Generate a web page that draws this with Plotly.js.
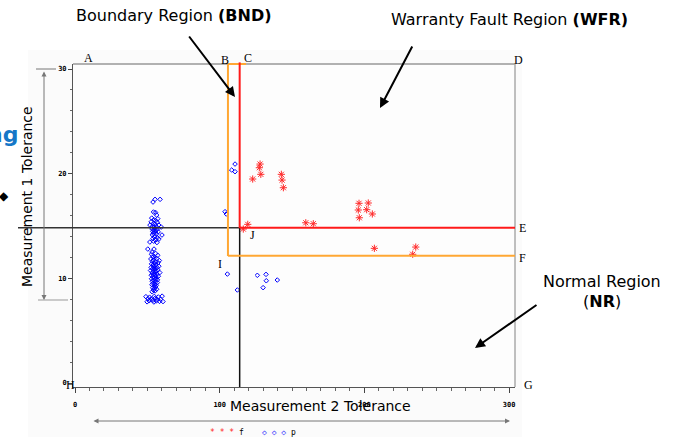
<!DOCTYPE html>
<html><head><meta charset="utf-8">
<script src="https://cdn.plot.ly/plotly-3.0.1.min.js"></script>
<style>html,body{margin:0;padding:0;background:#fff}#c{width:674px;height:437px}</style>
</head><body><div id="c"></div>
<script>
// Series f (fault) - red asterisks
const fX = [127.9,127.4,128.4,122.8,142.6,143.1,144.0,119.4,116.3,159.5,164.7,196.3,202.7,195.8,201.6,205.5,196.5,206.9,235.5,233.4];
const fY = [20.92,20.57,19.94,19.49,19.94,19.39,18.66,15.16,14.71,15.31,15.22,17.17,17.20,16.53,16.56,16.15,15.79,12.87,12.99,12.30];
// Series p (pass) - blue diamonds
const pX = [
 55.3,58.8,53.9,54.2,55.6,56.4,53.0,57.2,54.5,55.8,52.6,56.9,54.0,55.1,57.8,51.8,53.6,56.2,54.7,55.5,59.6,53.2,56.8,54.3,55.9,53.7,57.5,55.0,54.1,56.3,60.1,53.5,55.4,54.8,57.0,53.9,58.0,55.6,51.7,54.4,56.6,
 50.3,54.6,53.2,52.8,55.7,57.2,53.8,55.0,56.5,52.4,54.2,58.3,53.5,55.8,57.4,54.8,52.9,56.2,53.9,55.3,57.9,54.4,52.6,56.8,55.1,53.6,54.9,57.3,52.2,56.0,54.2,55.6,58.6,53.3,55.0,56.7,54.0,52.7,55.4,57.6,53.8,56.3,54.7,52.9,55.9,57.0,54.3,53.4,55.5,56.9,54.0,55.2,53.1,56.1,54.6,55.7,53.7,54.9,56.4,54.2,55.3,53.3,
 49.0,51.5,54.8,57.6,60.2,50.4,52.6,55.2,56.9,59.1,51.2,53.8,56.1,58.4,49.8,54.5,60.8,
 110.6,108.3,110.6,103.7,104.6,105.3,112.2,126.0,132.0,132.2,139.8,130.0];
const pY = [
 17.55,17.55,17.29,16.34,16.30,16.05,15.76,15.70,15.60,15.52,15.40,15.35,15.22,15.15,15.10,15.09,14.98,14.95,14.88,14.80,14.90,14.72,14.70,14.62,14.55,14.48,14.45,14.38,14.30,14.25,14.14,14.15,14.05,13.95,13.88,13.80,13.75,13.65,13.47,13.55,13.42,
 12.80,12.80,12.52,12.30,12.38,12.20,12.05,11.98,11.90,11.85,11.76,11.70,11.62,11.58,11.50,11.45,11.38,11.32,11.25,11.20,11.16,11.10,11.05,11.02,10.96,10.90,10.84,10.80,10.75,10.72,10.66,10.60,10.55,10.52,10.45,10.40,10.36,10.30,10.26,10.20,10.14,10.08,10.02,9.96,9.92,9.86,9.80,9.72,9.66,9.60,9.52,9.45,9.40,9.34,9.26,9.18,9.10,9.02,8.96,8.88,8.80,8.72,
 8.25,8.20,8.28,8.22,8.30,8.05,8.02,8.08,7.98,8.00,7.86,7.90,7.84,7.80,7.76,7.74,7.78,
 20.92,20.35,20.19,16.37,16.15,10.41,8.89,10.29,10.38,9.77,9.84,9.11];
// Region boundaries
const bndX = 105.7, bndY = 12.15;   // orange (boundary)
const wfrX = 113.8, wfrY = 14.83;   // red (warranty fault) / black split
const xTicks = [0,100,200,300];
const yTicks = [0,10,20,30];

// pixel -> paper helpers (plot area: l=73, t=64, w=442, h=323)
const PL=73, PT=64, PW=442, PH=323;
const px = x => (x-PL)/PW;
const py = y => (PT+PH-y)/PH;

const traces = [
 {x:pX, y:pY, mode:'markers', name:'p', type:'scatter',
  marker:{symbol:'diamond-open', size:3.5, color:'#0000ff', line:{color:'#0000ff', width:1}}},
 {x:fX, y:fY, mode:'markers', name:'f', type:'scatter',
  marker:{symbol:'asterisk-open', size:6, color:'#ff2a2a', line:{color:'#ff2a2a', width:1}}}
];

const letter = (t,x,y)=>({text:t, xref:'paper', yref:'paper', x:px(x), y:py(y), showarrow:false,
  font:{family:'Liberation Serif', size:12, color:'#000'}, xanchor:'center', yanchor:'middle'});
const sans = 'DejaVu Sans';

const annotations = [
 {text:'Boundary Region <b>(BND)</b>', xref:'paper', yref:'paper', x:px(174), y:py(15), showarrow:false,
  font:{family:sans, size:16, color:'#000'}, xanchor:'center', yanchor:'middle'},
 {text:'', xref:'paper', yref:'paper', x:px(235), y:py(97), ax:-47, ay:-62, showarrow:true,
  arrowhead:2, arrowsize:1, arrowwidth:2, arrowcolor:'#000'},
 {text:'Warranty Fault Region <b>(WFR)</b>', xref:'paper', yref:'paper', x:px(509), y:py(20), showarrow:false,
  font:{family:sans, size:16, color:'#000'}, xanchor:'center', yanchor:'middle'},
 {text:'', xref:'paper', yref:'paper', x:px(380), y:py(108), ax:33, ay:-63, showarrow:true,
  arrowhead:2, arrowsize:1, arrowwidth:2, arrowcolor:'#000'},
 {text:'Normal Region', xref:'paper', yref:'paper', x:px(602), y:py(281), showarrow:false,
  font:{family:sans, size:16, color:'#000'}, xanchor:'center', yanchor:'middle'},
 {text:'(<b>NR</b>)', xref:'paper', yref:'paper', x:px(602), y:py(301), showarrow:false,
  font:{family:sans, size:16, color:'#000'}, xanchor:'center', yanchor:'middle'},
 {text:'', xref:'paper', yref:'paper', x:px(475), y:py(348), ax:63, ay:-44, showarrow:true,
  arrowhead:2, arrowsize:1, arrowwidth:2, arrowcolor:'#000'},
 {text:'Measurement 1 Tolerance', xref:'paper', yref:'paper', x:px(27), y:py(197), showarrow:false, textangle:-90,
  font:{family:sans, size:14, color:'#000'}, xanchor:'center', yanchor:'middle'},
 {text:'Measurement 2 Tolerance', xref:'paper', yref:'paper', x:px(320), y:py(406), showarrow:false,
  font:{family:sans, size:14, color:'#000'}, xanchor:'center', yanchor:'middle'},
 // left vertical double arrow
 {text:'', xref:'paper', yref:'paper', x:px(44), y:py(300), ax:0, ay:-230, showarrow:true, arrowside:'end+start',
  arrowhead:2, arrowsize:1, arrowwidth:1, arrowcolor:'#777'},
 // bottom horizontal double arrow
 {text:'', xref:'paper', yref:'paper', x:px(510), y:py(421), ax:-418, ay:0, showarrow:true, arrowside:'end+start',
  arrowhead:2, arrowsize:1, arrowwidth:1, arrowcolor:'#777'},
 // legend
 {text:"<span style='color:#ff2020'>* * *</span> f", xref:'paper', yref:'paper', x:px(208), y:py(432), showarrow:false,
  font:{family:'DejaVu Sans Mono', size:8, color:'#000'}, xanchor:'left', yanchor:'middle'},
 {text:"<span style='color:#3030ff'>◇ ◇ ◇</span> p", xref:'paper', yref:'paper', x:px(260), y:py(432), showarrow:false,
  font:{family:'DejaVu Sans Mono', size:8, color:'#000'}, xanchor:'left', yanchor:'middle'},
 // slide fragments on the left
 {text:'<b>ng</b>', xref:'paper', yref:'paper', x:px(20), y:py(134), showarrow:false,
  font:{family:sans, size:22, color:'#1577c7'}, xanchor:'right', yanchor:'middle'},
 {text:'◆', xref:'paper', yref:'paper', x:px(4), y:py(196), showarrow:false,
  font:{family:sans, size:12, color:'#000'}, xanchor:'center', yanchor:'middle'},
 letter('A',88,58), letter('B',225,60), letter('C',248,58), letter('D',518,60),
 letter('E',522,228), letter('F',522,258), letter('G',528,385), letter('H',70,385),
 letter('I',220,264), letter('J',252,235)
];

const shapes = [
 // faint slide panel
 {type:'rect', xref:'paper', yref:'paper', x0:px(28), x1:px(522), y0:py(437), y1:py(50), fillcolor:'#fbfbfb', line:{width:0}, layer:'below'},
 {type:'rect', xref:'paper', yref:'paper', x0:0, x1:1, y0:0, y1:1, fillcolor:'#fdfdfd', line:{width:0}, layer:'below'},
 // frame top and right
 {type:'line', xref:'paper', yref:'paper', x0:0, x1:1, y0:1, y1:1, line:{color:'#666', width:1}},
 {type:'line', xref:'paper', yref:'paper', x0:1, x1:1, y0:0, y1:1, line:{color:'#aaa', width:1.5}},
 // left side ticks of the vertical arrow
 {type:'line', xref:'paper', yref:'paper', x0:px(36), x1:px(56), y0:py(69), y1:py(69), line:{color:'#777', width:1}},
 {type:'line', xref:'paper', yref:'paper', x0:px(38), x1:px(68), y0:py(300), y1:py(300), line:{color:'#999', width:1}},
 // black split lines
 {type:'line', xref:'paper', yref:'y', x0:px(18), x1:0, y0:wfrY, y1:wfrY, line:{color:'#333', width:1.5}},
 {type:'line', xref:'x', yref:'y', x0:-1.4, x1:wfrX, y0:wfrY, y1:wfrY, line:{color:'#333', width:1.5}},
 {type:'line', xref:'x', yref:'paper', x0:wfrX, x1:wfrX, y0:0, y1:py(228), line:{color:'#111', width:1.5}},
 // orange boundary
 {type:'line', xref:'x', yref:'paper', x0:bndX, x1:bndX, y0:py(256), y1:1, line:{color:'#ffa733', width:2}},
 {type:'line', xref:'x', yref:'y', x0:bndX, x1:304.1, y0:bndY, y1:bndY, line:{color:'#ffa733', width:2}},
 {type:'line', xref:'x', yref:'paper', x0:bndX, x1:118.2, y0:1, y1:1, line:{color:'#ffa733', width:2}},
 // red warranty fault boundary
 {type:'line', xref:'x', yref:'paper', x0:wfrX, x1:wfrX, y0:py(228), y1:1.005, line:{color:'#ff1a1a', width:2}},
 {type:'line', xref:'x', yref:'y', x0:wfrX, x1:304.1, y0:wfrY, y1:wfrY, line:{color:'#ff1a1a', width:2}}
];

const tickFont = {family:'DejaVu Sans Mono', size:7, color:'#000', weight:'bold'};
const layout = {
 width:674, height:437,
 margin:{l:PL, r:674-PL-PW, t:PT, b:437-PT-PH, pad:0},
 paper_bgcolor:'#ffffff', plot_bgcolor:'rgba(0,0,0,0)',
 showlegend:false,
 xaxis:{range:[-1.4,304.1], tickvals:xTicks, ticktext:xTicks.map(String), ticks:'outside', ticklen:5, tickcolor:'#444',
   minor:{dtick:10, tick0:0, ticks:'outside', ticklen:3, tickcolor:'#666', showgrid:false},
   showgrid:false, zeroline:false, showline:true, linecolor:'#555', linewidth:1, tickfont:tickFont, ticklabelstandoff:6},
 yaxis:{range:[-0.38,30.48], tickvals:yTicks, ticktext:yTicks.map(String), ticks:'outside', ticklen:4, tickcolor:'#444',
   minor:{dtick:2, tick0:0, ticks:'outside', ticklen:2, tickcolor:'#666', showgrid:false},
   showgrid:false, zeroline:false, showline:true, linecolor:'#555', linewidth:1, tickfont:tickFont},
 shapes:shapes, annotations:annotations
};
Plotly.newPlot('c', traces, layout, {staticPlot:true, displayModeBar:false});
</script></body></html>
